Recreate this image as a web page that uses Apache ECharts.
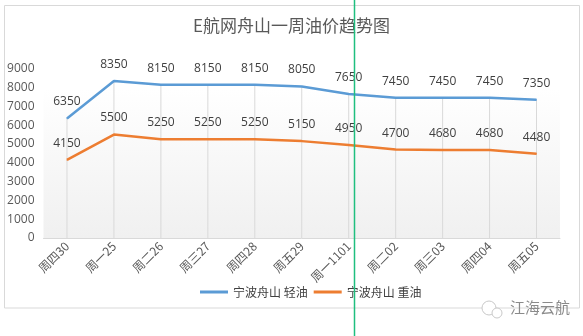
<!DOCTYPE html>
<html><head><meta charset="utf-8">
<script src="https://cdn.jsdelivr.net/npm/echarts@6/dist/echarts.min.js"></script>
<style>html,body{margin:0;padding:0;background:#fff}#c{width:583px;height:336px}</style>
</head><body><div id="c"></div>
<script>
const categories = ['周四30','周一25','周二26','周三27','周四28','周五29','周一1101','周二02','周三03','周四04','周五05'];
const lightOil = [6350, 8350, 8150, 8150, 8150, 8050, 7650, 7450, 7450, 7450, 7350];
const heavyOil = [4150, 5500, 5250, 5250, 5250, 5150, 4950, 4700, 4680, 4680, 4480];
const yTicks = [0,1000,2000,3000,4000,5000,6000,7000,8000,9000];
const seriesNames = ['宁波舟山 轻油','宁波舟山 重油'];
const titleText = 'E航网舟山一周油价趋势图';
const watermark = '江海云航';

const font = '"Noto Sans CJK SC","Noto Sans",sans-serif';
const numFont = '"Open Sans",sans-serif';
const chart = echarts.init(document.getElementById('c'), null, {renderer:'canvas'});
chart.setOption({
  animation:false,
  title:{text:titleText,left:'center',top:12,textStyle:{fontSize:17,fontWeight:'normal',color:'#595959',fontFamily:font}},
  legend:{data:seriesNames,left:195,top:281,itemWidth:28,itemHeight:3,itemGap:6,icon:'rect',
    textStyle:{fontSize:12,color:'#404040',fontFamily:font}},
  grid:{left:43.5,right:23,top:68.7,bottom:98,show:true,borderWidth:0,
    backgroundColor:new echarts.graphic.LinearGradient(0,0,0,1,[{offset:0,color:'#ffffff'},{offset:0.12,color:'#ffffff'},{offset:1,color:'#f0f0f0'}])},
  xAxis:{type:'category',data:categories,boundaryGap:true,
    axisLine:{lineStyle:{color:'#d9d9d9',width:1}},axisTick:{show:false},
    axisLabel:{rotate:45,fontSize:12,color:'#595959',margin:6,fontFamily:font,interval:0}},
  yAxis:{type:'value',min:0,max:9000,interval:1000,
    axisLine:{show:false},axisTick:{show:false},splitLine:{show:false},
    axisLabel:{fontSize:12,color:'#595959',margin:9,fontFamily:numFont,formatter:function(v){return String(v);}}},
  series:[
    {name:'drop',type:'bar',data:lightOil,barWidth:1,itemStyle:{color:'#d9d9d9'},silent:true,z:1,barGap:'-100%'},
    {name:seriesNames[0],type:'line',data:lightOil,symbol:'circle',symbolSize:1,showSymbol:true,z:3,
      lineStyle:{color:'#5b9bd5',width:2.5},itemStyle:{color:'#5b9bd5'},
      label:{show:true,position:'top',distance:10,fontSize:12,color:'#404040',fontFamily:numFont}},
    {name:seriesNames[1],type:'line',data:heavyOil,symbol:'circle',symbolSize:1,showSymbol:true,z:3,
      lineStyle:{color:'#ed7d31',width:2.5},itemStyle:{color:'#ed7d31'},
      label:{show:true,position:'top',distance:10,fontSize:12,color:'#404040',fontFamily:numFont}}
  ],
  graphic:[
    {type:'rect',shape:{x:4.5,y:5.5,width:575,height:302.5},style:{fill:'none',stroke:'#d9d9d9',lineWidth:1},silent:true,z:0},
    {type:'circle',shape:{cx:489,cy:308,r:7},style:{fill:'#fff',stroke:'#c8c8c8',lineWidth:1},z:10},
    {type:'circle',shape:{cx:497,cy:313,r:5},style:{fill:'#fff',stroke:'#c8c8c8',lineWidth:1},z:10},
    {type:'text',left:510,top:300,style:{text:watermark,fontSize:15,fill:'#8a8a8a',fontFamily:font},z:10},
    {type:'line',shape:{x1:354.5,y1:0,x2:354.5,y2:336},style:{stroke:'#1fbf7f',lineWidth:1.5},z:20}
  ]
});
</script></body></html>
